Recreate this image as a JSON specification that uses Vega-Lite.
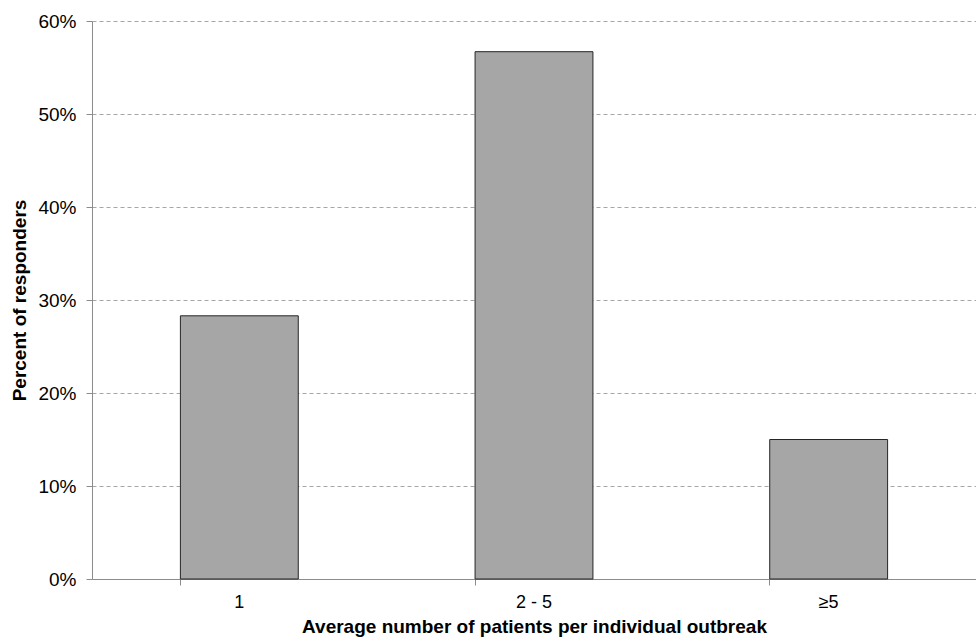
{
  "$schema": "https://vega.github.io/schema/vega-lite/v6.json",
  "autosize": {"type": "none"},
  "width": 884,
  "height": 558,
  "padding": {"left": 92, "top": 21, "right": 0, "bottom": 63},
  "background": "white",
  "config": {
    "view": {"stroke": null},
    "font": "Liberation Sans"
  },
  "data": {
    "values": [
      {"category": "1", "percent": 0.283},
      {"category": "2 - 5", "percent": 0.567},
      {"category": "≥5", "percent": 0.150}
    ]
  },
  "mark": {"type": "bar", "color": "#a6a6a6", "stroke": "#262626", "strokeWidth": 1},
  "encoding": {
    "x": {
      "field": "category",
      "type": "nominal",
      "sort": null,
      "scale": {"paddingInner": 0.6, "paddingOuter": 0.3},
      "axis": {
        "title": "Average number of patients per individual outbreak",
        "titleFont": "Liberation Sans",
        "titleFontSize": 19,
        "titleFontWeight": "bold",
        "titleColor": "#000",
        "titlePadding": 6,
        "labelAngle": 0,
        "labelFont": "Liberation Sans",
        "labelFontSize": 18,
        "labelColor": "#000",
        "labelPadding": 8,
        "bandPosition": 0,
        "domainColor": "#8c8c8c",
        "tickColor": "#8c8c8c",
        "tickSize": 6,
        "grid": false
      }
    },
    "y": {
      "field": "percent",
      "type": "quantitative",
      "scale": {"domain": [0, 0.6], "nice": false},
      "axis": {
        "title": "Percent of responders",
        "titleFont": "Liberation Sans",
        "titleFontSize": 19,
        "titleFontWeight": "bold",
        "titleColor": "#000",
        "titlePadding": 8,
        "format": ".0%",
        "values": [0, 0.1, 0.2, 0.3, 0.4, 0.5, 0.6],
        "labelFont": "Liberation Sans",
        "labelFontSize": 19,
        "labelColor": "#000",
        "labelPadding": 10,
        "domainColor": "#8c8c8c",
        "tickColor": "#8c8c8c",
        "tickSize": 6,
        "grid": true,
        "gridColor": "#a6a6a6",
        "gridDash": [4, 3],
        "gridWidth": 1
      }
    }
  }
}
